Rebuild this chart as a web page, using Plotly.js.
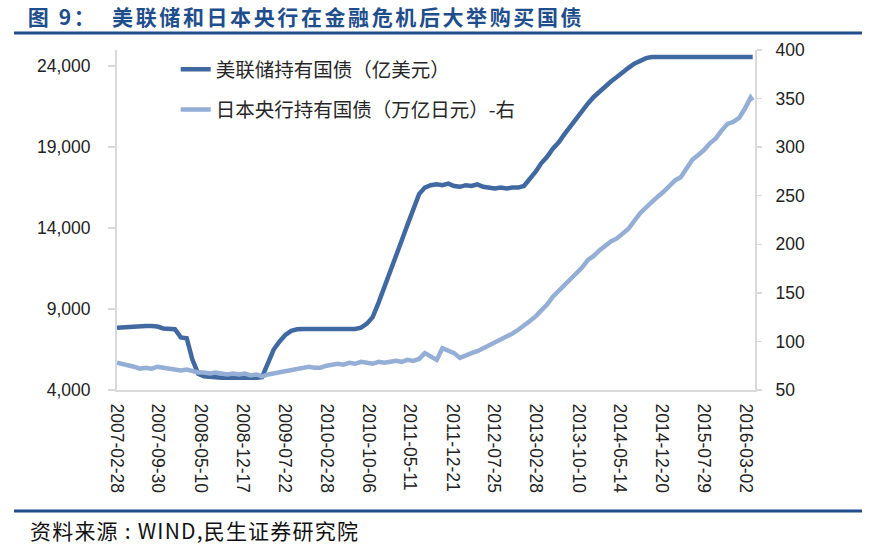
<!DOCTYPE html>
<html>
<head>
<meta charset="utf-8">
<script src="https://cdn.plot.ly/plotly-3.0.1.min.js"></script>
<style>html,body{margin:0;padding:0;background:#fff;}#chart{width:870px;height:547px;}</style>
</head>
<body>
<div id="chart"></div>
<script>
// Monthly observations starting 2007-02-28 (one per month), last point 2016-04-08
const startYear = 2007, startMonth = 2;
const lastDate = '2016-04-08';

// 美联储持有国债（亿美元）
const fedHoldings = [
  7850,7880,7900,7920,7950,7950,7950,7920,7800,7800,
  7750,7250,7200,5900,5000,4850,4800,4780,4760,4760,
  4750,4760,4760,4780,4760,4800,5600,6500,7000,7400,
  7650,7750,7760,7770,7770,7770,7770,7770,7770,7770,
  7770,7770,7850,8100,8500,9400,10400,11300,12300,13200,
  14200,15200,16100,16500,16650,16700,16650,16750,16600,16550,
  16650,16600,16700,16550,16500,16450,16500,16450,16500,16500,
  16600,17000,17500,18000,18400,18900,19300,19800,20300,20700,
  21200,21700,22100,22450,22750,23050,23330,23650,23900,24150,
  24350,24500,24570,24570,24570,24570,24570,24570,24570,24570,
  24570,24570,24570,24570,24570,24570,24570,24570,24570,24570,
  24570
];

// 日本央行持有国债（万亿日元）-右
const bojHoldings = [
  78,77,76,74,72,73,72,74,73,72,
  71,70,71,69,68,68,67,68,67,66,
  67,66,67,65,66,64,66,67,68,69,
  71,72,72,74,73,73,75,76,77,76,
  78,77,79,78,77,79,78,79,80,79,
  81,80,82,88,85,81,93,91,88,83,
  86,88,90,93,95,98,101,104,108,112,
  116,121,126,131,138,146,152,157,163,170,
  176,184,188,194,199,203,206,211,216,224,
  232,238,244,249,254,260,266,269,279,287,
  292,297,304,309,317,324,326,330,340,351,
  348
];

const tickLabels = ['2007-02-28','2007-09-30','2008-05-10','2008-12-17','2009-07-22','2010-02-28',
  '2010-10-06','2011-05-11','2011-12-21','2012-07-25','2013-02-28','2013-10-10',
  '2014-05-14','2014-12-20','2015-07-29','2016-03-02'];

const leftTicks = [4000, 9000, 14000, 19000, 24000];
const rightTicks = [50, 100, 150, 200, 250, 300, 350, 400];

const fedName = '美联储持有国债（亿美元）';
const bojName = '日本央行持有国债（万亿日元）-右';

// build date list
const dates = [];
for (let m = 0; m < fedHoldings.length - 1; m++) {
  const idx = startMonth - 1 + m;
  const y = startYear + Math.floor(idx / 12);
  const mo = (idx % 12) + 1;
  dates.push(y + '-' + String(mo).padStart(2, '0') + '-28');
}
dates.push(lastDate);

const cjk = '"Noto Sans CJK SC", "Liberation Sans", Arial, sans-serif';
const latin = '"Liberation Sans", Arial, "Noto Sans CJK SC", sans-serif';
const axisGrey = '#d9d9d9';

const traces = [
  {
    x: dates, y: fedHoldings, name: fedName, type: 'scatter', mode: 'lines',
    line: {color: '#4169a1', width: 4.5}, yaxis: 'y', legendgroup: 'a'
  },
  {
    x: dates, y: bojHoldings, name: bojName, type: 'scatter', mode: 'lines',
    line: {color: '#94aed6', width: 4.5}, yaxis: 'y2', legendgroup: 'b'
  }
];

const layout = {
  width: 870, height: 547,
  margin: {l: 117, r: 115, t: 50, b: 157, autoexpand: false},
  paper_bgcolor: '#fff', plot_bgcolor: '#fff',
  font: {family: latin, color: '#222', size: 17},
  showlegend: true,
  legend: {
    x: 0.092, y: 1.0, xanchor: 'left', yanchor: 'top',
    font: {family: cjk, size: 19.5, color: '#262626'},
    bgcolor: 'rgba(0,0,0,0)', traceorder: 'grouped', tracegroupgap: 12
  },
  title: {
    text: '<b><span style="letter-spacing:2.6px">图 9：  美联储和日本央行在金融危机后大举购买国债</span></b>',
    x: 0.032, xanchor: 'left', xref: 'container',
    y: 0.967, yanchor: 'middle', yref: 'container',
    font: {family: cjk, size: 21, color: '#1f4e8c'}
  },
  xaxis: {
    type: 'date',
    range: ['2007-02-28', '2016-04-20'],
    tickmode: 'array', tickvals: tickLabels, ticktext: tickLabels,
    tickangle: 90, ticks: '', showgrid: false, zeroline: false,
    showline: true, linecolor: axisGrey, linewidth: 2,
    ticklabelstandoff: 8,
    tickfont: {family: latin, size: 17.5, color: '#222'}
  },
  yaxis: {
    range: [4000, 25000], tickmode: 'array', tickvals: leftTicks,
    tickformat: ',d', ticks: 'outside', ticklen: 7, tickcolor: axisGrey, tickwidth: 1.5,
    showline: true, linecolor: axisGrey, linewidth: 2, showgrid: false, zeroline: false,
    ticklabelstandoff: 14,
    tickfont: {family: latin, size: 17.5, color: '#222'}
  },
  yaxis2: {
    overlaying: 'y', side: 'right', range: [50, 400], tickmode: 'array', tickvals: rightTicks,
    ticks: 'outside', ticklen: 5, tickcolor: axisGrey, tickwidth: 1.5,
    showline: true, linecolor: axisGrey, linewidth: 2, showgrid: false, zeroline: false,
    ticklabelstandoff: 10,
    tickfont: {family: latin, size: 17.5, color: '#222'}
  },
  shapes: [
    {type: 'line', xref: 'paper', yref: 'paper', x0: -0.1614, x1: 1.1677, y0: 1.05, y1: 1.05,
     line: {color: '#1f4e8c', width: 3}},
    {type: 'line', xref: 'paper', yref: 'paper', x0: -0.1614, x1: 1.1677, y0: -0.356, y1: -0.356,
     line: {color: '#1f4e8c', width: 3}}
  ],
  annotations: [
    {text: '<span style="letter-spacing:1.2px">资料来源 : WIND,民生证券研究院</span>', xref: 'paper', yref: 'paper',
     x: -0.1395, y: -0.412, xanchor: 'left', yanchor: 'middle', showarrow: false,
     font: {family: cjk, size: 21, color: '#111'}}
  ]
};

Plotly.newPlot('chart', traces, layout, {displayModeBar: false, staticPlot: true});
</script>
</body>
</html>
